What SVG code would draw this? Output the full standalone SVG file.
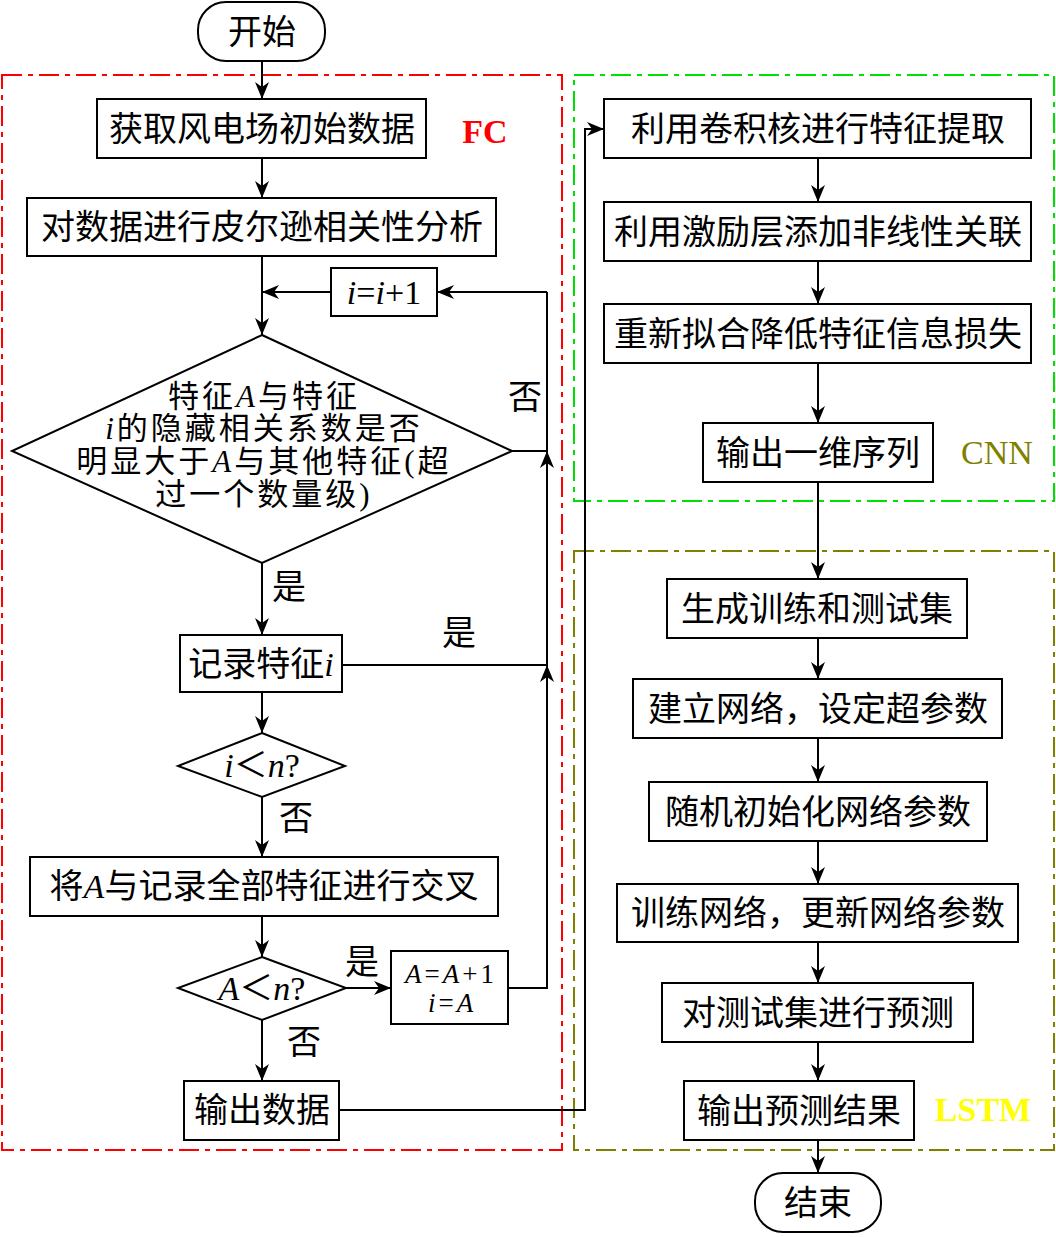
<svg xmlns="http://www.w3.org/2000/svg" width="1056" height="1237" viewBox="0 0 1056 1237">
<style>
.t{font-family:"Liberation Serif","Noto Sans CJK SC",serif;font-size:34px;text-anchor:middle;fill:#000}
.d{font-size:31px;letter-spacing:3px}
.s{font-size:27px;letter-spacing:3px}
.i{font-style:italic}
.box{fill:#fff;stroke:#000;stroke-width:2}
.ln{fill:none;stroke:#000;stroke-width:2}
.grp{fill:none;stroke-width:2;stroke-dasharray:20 6 5 6}
.lab{font-family:"Liberation Serif",serif;font-size:34px;text-anchor:middle}
</style>
<defs>
<marker id="ah" markerUnits="userSpaceOnUse" markerWidth="18" markerHeight="14" refX="17" refY="7" orient="auto">
<path d="M0,0 L17,7 L0,14 L5,7 z" fill="#000"/>
</marker>
</defs>
<rect width="1056" height="1237" fill="#fff"/>

<g id="groups">
<rect x="2" y="75" width="560" height="1075" class="grp" stroke="#ff0000"/>
<rect x="574" y="75" width="480" height="426" class="grp" stroke="#00e000"/>
<rect x="574" y="551" width="480" height="599" class="grp" stroke="#808000"/>
<text x="485" y="143" class="lab" fill="#ff0000" font-weight="bold">FC</text>
<text x="997" y="464" class="lab" fill="#808000">CNN</text>
<text x="983" y="1121" class="lab" fill="#ffff00" font-weight="bold">LSTM</text>
</g>

<g id="connectors">
<path class="ln" d="M262,61 V99" marker-end="url(#ah)"/>
<path class="ln" d="M262,158 V198" marker-end="url(#ah)"/>
<path class="ln" d="M262,256 V335" marker-end="url(#ah)"/>
<path class="ln" d="M331,292 H262" marker-end="url(#ah)"/>
<path class="ln" d="M547,292 H437" marker-end="url(#ah)"/>
<path class="ln" d="M508,988 H547 V292"/>
<path class="ln" d="M547,480 V451" marker-end="url(#ah)"/>
<path class="ln" d="M547,695 V665" marker-end="url(#ah)"/>
<path class="ln" d="M512,451 H547"/>
<path class="ln" d="M342,665 H547"/>
<path class="ln" d="M262,563 V635" marker-end="url(#ah)"/>
<path class="ln" d="M262,692 V733" marker-end="url(#ah)"/>
<path class="ln" d="M262,797 V857" marker-end="url(#ah)"/>
<path class="ln" d="M262,916 V957" marker-end="url(#ah)"/>
<path class="ln" d="M346,988 H391" marker-end="url(#ah)"/>
<path class="ln" d="M262,1020 V1081" marker-end="url(#ah)"/>
<path class="ln" d="M339,1110 H585 V129 H604" marker-end="url(#ah)"/>
<path class="ln" d="M818,158 V202" marker-end="url(#ah)"/>
<path class="ln" d="M818,261 V304" marker-end="url(#ah)"/>
<path class="ln" d="M818,363 V423" marker-end="url(#ah)"/>
<path class="ln" d="M818,482 V579" marker-end="url(#ah)"/>
<path class="ln" d="M818,638 V679" marker-end="url(#ah)"/>
<path class="ln" d="M818,738 V782" marker-end="url(#ah)"/>
<path class="ln" d="M818,841 V884" marker-end="url(#ah)"/>
<path class="ln" d="M818,942 V983" marker-end="url(#ah)"/>
<path class="ln" d="M818,1042 V1081" marker-end="url(#ah)"/>
<path class="ln" d="M818,1140 V1173" marker-end="url(#ah)"/>
<text x="525" y="409" class="t">否</text>
<text x="289" y="599" class="t">是</text>
<text x="459" y="645" class="t">是</text>
<text x="296" y="830" class="t">否</text>
<text x="362" y="974" class="t">是</text>
<text x="304" y="1054" class="t">否</text>
</g>

<g id="start">
<rect x="198" y="2" width="127" height="59" rx="28" ry="28" class="box"/>
<text x="262" y="44" class="t">开始</text>
</g>
<g id="n1">
<rect x="97" y="99" width="329" height="59" class="box"/>
<text x="262" y="141" class="t">获取风电场初始数据</text>
</g>
<g id="n2">
<rect x="27" y="198" width="469" height="58" class="box"/>
<text x="262" y="239" class="t">对数据进行皮尔逊相关性分析</text>
</g>
<g id="inc">
<rect x="331" y="268" width="106" height="48" class="box"/>
<text x="384" y="304" class="t"><tspan class="i">i</tspan>=<tspan class="i">i</tspan>+1</text>
</g>
<g id="d1">
<polygon points="262,335 512,451 262,563 12,451" class="box"/>
<text x="264" y="407" class="t d">特征<tspan class="i">A</tspan>与特征</text>
<text x="264" y="439" class="t d"><tspan class="i">i</tspan>的隐藏相关系数是否</text>
<text x="264" y="472" class="t d">明显大于<tspan class="i">A</tspan>与其他特征(超</text>
<text x="264" y="505" class="t d">过一个数量级)</text>
</g>
<g id="rec">
<rect x="180" y="635" width="162" height="57" class="box"/>
<text x="261" y="676" class="t">记录特征<tspan class="i">i</tspan></text>
</g>
<g id="d2">
<polygon points="262,733 345,766 262,797 178,766" class="box"/>
<text x="262" y="777" class="t"><tspan class="i">i</tspan>＜<tspan class="i">n</tspan>?</text>
</g>
<g id="cross">
<rect x="30" y="857" width="468" height="59" class="box"/>
<text x="264" y="898" class="t">将<tspan class="i">A</tspan>与记录全部特征进行交叉</text>
</g>
<g id="d3">
<polygon points="262,957 346,988 262,1020 178,988" class="box"/>
<text x="262" y="1000" class="t"><tspan class="i">A</tspan>＜<tspan class="i">n</tspan>?</text>
</g>
<g id="incA">
<rect x="391" y="951" width="117" height="73" class="box"/>
<text x="451" y="983" class="t s"><tspan class="i">A</tspan>=<tspan class="i">A</tspan>+1</text>
<text x="452" y="1012" class="t s"><tspan class="i">i</tspan>=<tspan class="i">A</tspan></text>
</g>
<g id="out">
<rect x="184" y="1081" width="155" height="59" class="box"/>
<text x="262" y="1122" class="t">输出数据</text>
</g>

<g id="c1">
<rect x="604" y="99" width="427" height="59" class="box"/>
<text x="818" y="141" class="t">利用卷积核进行特征提取</text>
</g>
<g id="c2">
<rect x="604" y="202" width="427" height="59" class="box"/>
<text x="818" y="244" class="t">利用激励层添加非线性关联</text>
</g>
<g id="c3">
<rect x="604" y="304" width="427" height="59" class="box"/>
<text x="818" y="346" class="t">重新拟合降低特征信息损失</text>
</g>
<g id="c4">
<rect x="703" y="423" width="230" height="59" class="box"/>
<text x="818" y="465" class="t">输出一维序列</text>
</g>
<g id="l1">
<rect x="667" y="579" width="300" height="59" class="box"/>
<text x="817" y="621" class="t">生成训练和测试集</text>
</g>
<g id="l2">
<rect x="633" y="679" width="369" height="59" class="box"/>
<text x="818" y="721" class="t">建立网络，设定超参数</text>
</g>
<g id="l3">
<rect x="649" y="782" width="338" height="59" class="box"/>
<text x="818" y="824" class="t">随机初始化网络参数</text>
</g>
<g id="l4">
<rect x="617" y="884" width="401" height="58" class="box"/>
<text x="818" y="925" class="t">训练网络，更新网络参数</text>
</g>
<g id="l5">
<rect x="662" y="983" width="311" height="59" class="box"/>
<text x="818" y="1025" class="t">对测试集进行预测</text>
</g>
<g id="l6">
<rect x="684" y="1081" width="230" height="59" class="box"/>
<text x="799" y="1123" class="t">输出预测结果</text>
</g>
<g id="end">
<rect x="755" y="1173" width="126" height="59" rx="28" ry="28" class="box"/>
<text x="818" y="1215" class="t">结束</text>
</g>
</svg>
